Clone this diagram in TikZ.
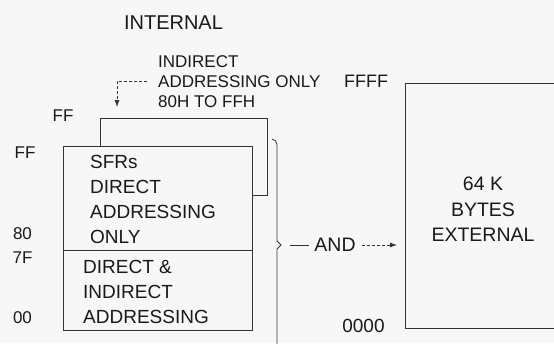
\documentclass[tikz,border=0pt]{standalone}
\usepackage{fontspec}
\setmainfont{Liberation Sans}
\usetikzlibrary{arrows.meta}
\begin{document}
\begin{tikzpicture}[x=1pt,y=-1pt,
  line/.style={draw=black!80, line width=0.8pt},
  dline/.style={line, dash pattern=on 3pt off 2pt},
  box/.style={line, fill=black!3, inner sep=0pt, anchor=north west},
  lbl/.style={inner sep=0pt, text=black!90},
  big/.style={font=\fontsize{19}{25}\selectfont},
  small/.style={font=\fontsize{17}{20}\selectfont},
  tip/.style={-{Latex[length=7pt,width=5pt]}}]
\useasboundingbox[fill=black!3] (0,0) rectangle (554,343);

% titles and labels
\node[lbl, font=\fontsize{20}{24}\selectfont] (internal) at (173.5,22.5) {INTERNAL};
\node[lbl, small, anchor=north west, align=left] (indirect) at (158,55)
  {INDIRECT\\ADDRESSING ONLY\\80H TO FFH};
\node[lbl, font=\fontsize{18}{20}\selectfont] (ffff) at (366,81) {FFFF};

% internal memory boxes
\node[box, minimum width=167pt, minimum height=77pt] (back) at (100,118) {};
\node[box, minimum width=189pt, minimum height=184pt] (front) at (63,146) {};
\coordinate (div) at (63,250);
\draw[line] (div) -- (div -| front.east);

\node[lbl, big, anchor=north west, align=left] (sfr) at (90,155)
  {SFRs\\DIRECT\\ADDRESSING\\ONLY};
\node[lbl, big, anchor=north west, align=left] (dir) at (83,260)
  {DIRECT \&\\INDIRECT\\ADDRESSING};

% address labels
\node[lbl, small] (ffa) at (63,116) {FF};
\node[lbl, small] (ffb) at (25,152.5) {FF};
\node[lbl, small] (eighty) at (22.5,234) {80};
\node[lbl, small] (sevenf) at (22.5,257.5) {7F};
\node[lbl, small] (zero) at (22.5,317.5) {00};

% indirect arrow
\coordinate (arrstart) at (147,81);
\coordinate (arrend) at (117,107);
\draw[dline, tip] (arrstart) -| (arrend);

% brace
\coordinate (bt) at (272,139);
\coordinate (btip) at (281,245);
\draw[line] (bt) to[out=0,in=90] (277,145) -- (277,241) -- (btip) -- (277,249) -- (277,360);

% AND connector
\node[lbl, font=\fontsize{19.5}{22}\selectfont] (and) at (335,245) {AND};
\coordinate (andl) at (290,245);
\draw[line] (andl) -- ([xshift=-5pt]and.west);

% external memory
\coordinate (extnw) at (405,83);
\coordinate (extsw) at (405,328);
\draw[line] (560,83) -- (extnw) -- (extsw) -- (560,328);
\draw[dline, tip] ([xshift=6pt]and.east) -- ([xshift=-8pt]extsw |- and.center);

\node[lbl, font=\fontsize{19.5}{25.5}\selectfont, anchor=north, align=center] (ext) at (483,177)
  {64 K\\BYTES\\EXTERNAL};
\node[lbl, font=\fontsize{19}{20}\selectfont] (zeros) at (363.5,326) {0000};
\end{tikzpicture}
\end{document}
